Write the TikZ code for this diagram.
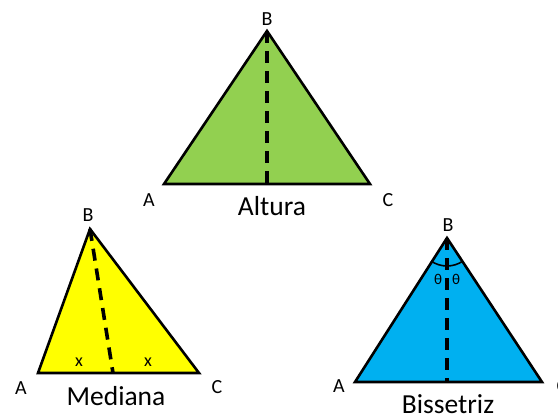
\documentclass[tikz,border=0pt]{standalone}
\usepackage{fontspec}
\setmainfont{Carlito}
\definecolor{trigreen}{HTML}{92D050}
\definecolor{triyellow}{HTML}{FFFF00}
\definecolor{triblue}{HTML}{00B0F0}

\begin{document}
\begin{tikzpicture}[
  x=1pt,y=-1pt,
  tri/.style={draw=black,line width=2.6pt,line join=miter},
  cut/.style={draw=black,line width=3.6pt,dash pattern=on 12pt off 8pt},
  vtx/.style={font=\fontsize{20}{22}\selectfont,inner sep=0pt},
  title/.style={font=\fontsize{27.5}{30}\selectfont,inner sep=0pt},
  small/.style={font=\fontsize{18}{20}\selectfont,inner sep=0pt}
]
\useasboundingbox (0,0) rectangle (558,414);
% Altura
\coordinate (gA) at (164,184);
\coordinate (gB) at (267,31);
\coordinate (gC) at (370,184);
\coordinate (gH) at (267,184);
\filldraw[tri,fill=trigreen] (gA) -- (gB) -- (gC) -- cycle;
\draw[cut] (gB) -- (gH);
\node[vtx] (gBl) at (267,19) {B};
\node[vtx] (gAl) at (149,200) {A};
\node[vtx] (gCl) at (388,200) {C};
\node[title] (alt) at (272,206) {Altura};
% Mediana
\coordinate (yA) at (38,373);
\coordinate (yB) at (90,229);
\coordinate (yC) at (199,373);
\coordinate (yM) at (113,373);
\filldraw[tri,fill=triyellow] (yA) -- (yB) -- (yC) -- cycle;
\draw[cut] (yB) -- (yM);
\node[vtx] (yBl) at (88,215) {B};
\node[vtx] (yAl) at (21,388) {A};
\node[vtx] (yCl) at (217,387) {C};
\node[small] (yx1) at (79,362) {x};
\node[small] (yx2) at (148,362) {x};
\node[title] (med) at (116,396) {Mediana};
% Bissetriz
\coordinate (bA) at (355,382);
\coordinate (bB) at (447,238);
\coordinate (bC) at (542,382);
\coordinate (bD) at (447,382);
\filldraw[tri,fill=triblue] (bA) -- (bB) -- (bC) -- cycle;
\draw[cut] (bB) -- (bD);
\draw[line width=1.6pt] ([shift={(55:28)}]bB) arc[start angle=55,end angle=125,radius=28];
\node[small,font=\fontsize{15}{17}\selectfont] (bt1) at (438,279) {θ};
\node[small,font=\fontsize{15}{17}\selectfont] (bt2) at (456,279) {θ};
\node[vtx] (bBl) at (448,225) {B};
\node[vtx] (bAl) at (339,386) {A};
\node[vtx] (bCl) at (562,386) {C};
\node[title] (bis) at (448,404) {Bissetriz};
\end{tikzpicture}
\end{document}
